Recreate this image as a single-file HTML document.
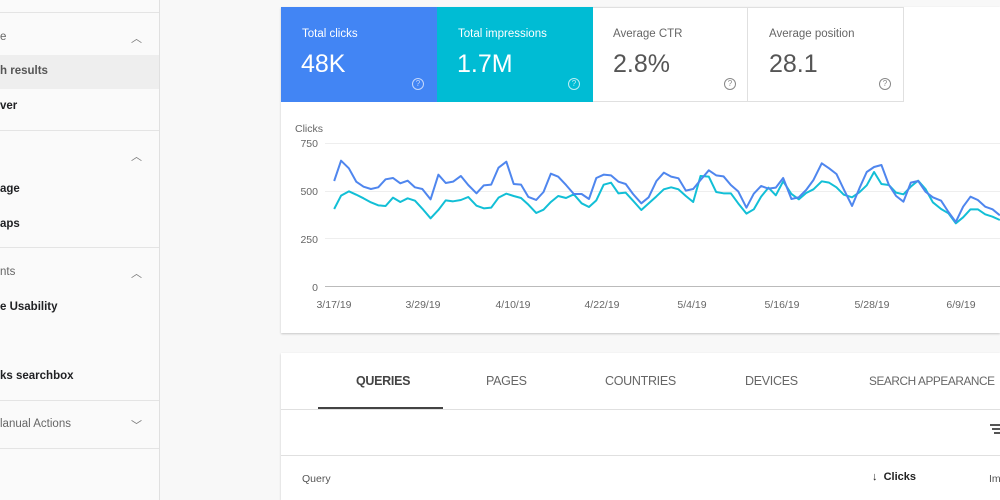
<!DOCTYPE html>
<html><head><style>
*{margin:0;padding:0;box-sizing:border-box}
body{width:1000px;height:500px;overflow:hidden;background:#f8f8f8;font-family:"Liberation Sans",sans-serif;position:relative}
.a{position:absolute;white-space:nowrap}
.sb{left:0;top:0;width:160px;height:500px;border-right:1px solid #e0e0e0;background:#fafafa}
.hl{height:1px;background:#e4e4e4;left:0;width:159px}
.it{font-size:11.5px;font-weight:bold;color:#202124;left:0}
.hd{font-size:11.5px;color:#666;left:0}
.ch{color:#777;font-size:11px;left:131px}
.lbl{font-size:11.5px}
.val{font-size:25px}
.q{width:12px;height:12px;border:1px solid;border-radius:50%;font-size:8px;text-align:center;line-height:10px}
.tab{font-size:12.5px;color:#666;top:374px;letter-spacing:-0.3px}
</style></head><body>
<div class="a sb"></div>
<div class="a hl" style="top:12px"></div>
<div class="a hd" style="top:31px">e</div><div class="a ch" style="top:30px">︿</div>
<div class="a" style="left:0;top:55px;width:159px;height:34px;background:#eeeeee"></div>
<div class="a it" style="top:65px;color:#555">h results</div>
<div class="a it" style="top:100px">ver</div>
<div class="a hl" style="top:130px"></div>
<div class="a ch" style="top:148px">︿</div>
<div class="a it" style="top:183px">age</div>
<div class="a it" style="top:218px">aps</div>
<div class="a hl" style="top:247px"></div>
<div class="a hd" style="top:266px">nts</div><div class="a ch" style="top:265px">︿</div>
<div class="a it" style="top:301px">e Usability</div>
<div class="a it" style="top:370px">ks searchbox</div>
<div class="a hl" style="top:400px"></div>
<div class="a hd" style="top:418px">lanual Actions</div><div class="a ch" style="top:417px">﹀</div>
<div class="a hl" style="top:448px"></div>

<div class="a" style="left:281px;top:7px;width:719px;height:326px;background:#fff;box-shadow:0 1px 2px rgba(0,0,0,.2)"></div>
<div class="a" style="left:281px;top:7px;width:156px;height:95px;background:#4285f4"></div>
<div class="a" style="left:437px;top:7px;width:156px;height:95px;background:#00bcd4"></div>
<div class="a" style="left:593px;top:7px;width:155px;height:95px;border:1px solid #e0e0e0;border-left:none"></div>
<div class="a" style="left:748px;top:7px;width:156px;height:95px;border:1px solid #e0e0e0;border-left:none"></div>
<div class="a lbl" style="left:302px;top:28px;color:#fff">Total clicks</div>
<div class="a val" style="left:301px;top:50px;color:#fff">48K</div>
<div class="a q" style="left:412px;top:78px;color:#c5d8fb">?</div>
<div class="a lbl" style="left:458px;top:28px;color:#fff">Total impressions</div>
<div class="a val" style="left:457px;top:50px;color:#fff">1.7M</div>
<div class="a q" style="left:568px;top:78px;color:#bdeef4">?</div>
<div class="a lbl" style="left:613px;top:28px;color:#666">Average CTR</div>
<div class="a val" style="left:613px;top:50px;color:#555">2.8%</div>
<div class="a q" style="left:724px;top:78px;color:#888">?</div>
<div class="a lbl" style="left:769px;top:28px;color:#666">Average position</div>
<div class="a val" style="left:769px;top:50px;color:#555">28.1</div>
<div class="a q" style="left:879px;top:78px;color:#888">?</div>

<svg class="a" style="left:0;top:0" width="1000" height="500">
<g stroke="#eee" stroke-width="1"><line x1="325" x2="1000" y1="143.5" y2="143.5"/><line x1="325" x2="1000" y1="191.5" y2="191.5"/><line x1="325" x2="1000" y1="238.5" y2="238.5"/></g>
<line x1="325" x2="1000" y1="286.5" y2="286.5" stroke="#bbb"/>
<g font-family="Liberation Sans" font-size="10.5" fill="#666">
<text x="295" y="132">Clicks</text>
<text x="318" y="147" text-anchor="end">750</text>
<text x="318" y="195" text-anchor="end">500</text>
<text x="318" y="243" text-anchor="end">250</text>
<text x="318" y="291" text-anchor="end">0</text>
<g text-anchor="middle">
<text x="334" y="308">3/17/19</text><text x="423" y="308">3/29/19</text><text x="513" y="308">4/10/19</text><text x="602" y="308">4/22/19</text><text x="692" y="308">5/4/19</text><text x="782" y="308">5/16/19</text><text x="872" y="308">5/28/19</text><text x="961" y="308">6/9/19</text>
</g></g>
<g transform="translate(280,110) scale(0.4591,0.3333)" fill="none" stroke-linejoin="round">
<polyline vector-effect="non-scaling-stroke" stroke="#12bfd6" stroke-width="2" points="118,297 133,257 150,244 166,254 182,265 198,277 214,286 230,288 246,263 262,276 278,265 294,272 310,296 328,325 345,300 361,271 377,274 394,270 410,261 428,287 444,295 460,293 476,263 493,251 509,258 525,264 541,284 558,309 574,299 590,276 606,258 623,264 640,253 657,280 673,291 689,271 705,224 721,218 737,250 753,248 769,272 787,300 803,280 820,259 836,238 852,232 868,238 884,258 900,276 916,198 934,200 950,246 966,250 982,250 998,280 1016,311 1032,298 1048,260 1064,233 1080,256 1096,214 1114,252 1130,268 1146,249 1162,238 1180,214 1196,218 1212,232 1228,254 1246,262 1262,247 1278,226 1294,186 1310,222 1326,225 1342,248 1358,253 1374,230 1390,212 1406,237 1422,277 1440,297 1456,310 1472,340 1488,322 1504,298 1520,298 1536,313 1552,320 1568,330"/>
<polyline vector-effect="non-scaling-stroke" stroke="#4f86ee" stroke-width="2" points="118,213 133,152 150,175 166,215 182,230 198,237 214,232 230,208 246,204 262,220 278,212 294,232 310,237 328,268 345,194 361,219 377,215 394,198 410,225 428,250 444,226 460,224 476,173 493,155 509,222 525,224 541,261 558,270 574,246 590,191 606,200 623,225 640,252 657,252 673,267 689,204 705,194 721,196 737,215 753,222 769,252 787,280 803,262 820,213 836,188 852,200 868,205 884,242 900,237 916,210 934,181 950,196 966,199 982,225 998,244 1016,293 1032,251 1048,228 1064,236 1080,233 1096,204 1114,267 1130,262 1146,240 1162,210 1180,160 1196,175 1212,192 1228,238 1246,288 1262,235 1278,186 1294,171 1310,165 1326,224 1342,258 1358,275 1374,218 1390,213 1406,245 1422,262 1440,272 1456,306 1472,336 1488,290 1504,260 1520,270 1536,290 1552,298 1568,316"/>
</g>
</svg>

<div class="a" style="left:281px;top:353px;width:719px;height:147px;background:#fff;box-shadow:0 1px 2px rgba(0,0,0,.2)"></div>
<div class="a tab" style="left:356px;color:#444;font-weight:bold">QUERIES</div>
<div class="a tab" style="left:486px">PAGES</div>
<div class="a tab" style="left:605px">COUNTRIES</div>
<div class="a tab" style="left:745px">DEVICES</div>
<div class="a tab" style="left:869px;font-size:11.8px;letter-spacing:-0.4px">SEARCH APPEARANCE</div>
<div class="a" style="left:318px;top:407px;width:125px;height:2px;background:#444"></div>
<div class="a" style="left:281px;top:409px;width:719px;height:1px;background:#e0e0e0"></div>
<div class="a" style="left:990px;top:424px;width:10px;height:2px;background:#555"></div>
<div class="a" style="left:992px;top:428px;width:8px;height:2px;background:#555"></div>
<div class="a" style="left:994px;top:432px;width:6px;height:2px;background:#555"></div>
<div class="a" style="left:281px;top:455px;width:719px;height:1px;background:#e0e0e0"></div>
<div class="a" style="left:302px;top:473px;font-size:10.5px;color:#555">Query</div>
<div class="a" style="left:872px;top:471px;font-size:11px;color:#222;font-weight:bold">↓&nbsp; Clicks</div>
<div class="a" style="left:989px;top:473px;font-size:10.5px;color:#555">Im</div>
</body></html>
